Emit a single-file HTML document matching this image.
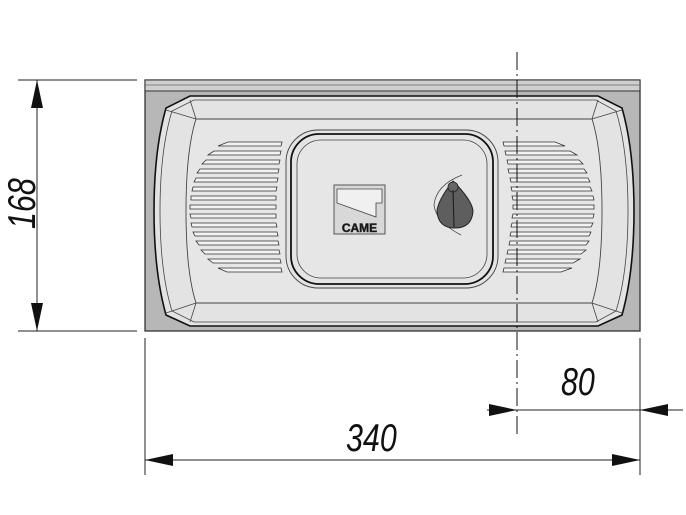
<!DOCTYPE html>
<html><head><meta charset="utf-8"><style>
html,body{margin:0;padding:0;background:#fff;width:686px;height:515px;overflow:hidden}
svg{display:block}
text{font-family:"Liberation Sans",sans-serif;font-style:italic;fill:#111}
</style></head><body>
<svg width="686" height="515" viewBox="0 0 686 515" xmlns="http://www.w3.org/2000/svg">
<rect x="145" y="80" width="495" height="251" fill="#b7b7b7" stroke="#333" stroke-width="1.3"/>
<rect x="145" y="80" width="495" height="11" fill="#cfcfcf" stroke="#333" stroke-width="1"/>
<line x1="145" y1="85" x2="640" y2="85" stroke="#666" stroke-width="0.8"/>
<path d="M190,96 L598,96 L622,108 Q634,150 634,211 Q634,272 622,315 L598,326 L190,326 L166,315 Q154,272 154,211 Q154,150 166,108 Z" fill="#e3e3e3" stroke="#111" stroke-width="1.6"/>
<path d="M194,100 L596,100 L616,111 Q628,150 628,211 Q628,272 616,311 L596,322 L194,322 L172,311 Q160,272 160,211 Q160,150 172,111 Z" fill="none" stroke="#444" stroke-width="0.8"/>
<path d="M196,119 L592,119 Q602,150 602,211 Q602,272 592,303 L196,303 Q186,272 186,211 Q186,150 196,119 Z" fill="#e6e6e6" stroke="#444" stroke-width="0.9"/>
<line x1="166" y1="110" x2="196" y2="119" stroke="#444" stroke-width="0.8"/>
<line x1="190" y1="100" x2="196" y2="119" stroke="#444" stroke-width="0.8"/>
<line x1="166" y1="313" x2="196" y2="303" stroke="#444" stroke-width="0.8"/>
<line x1="190" y1="322" x2="196" y2="303" stroke="#444" stroke-width="0.8"/>
<line x1="622" y1="110" x2="592" y2="119" stroke="#444" stroke-width="0.8"/>
<line x1="598" y1="100" x2="592" y2="119" stroke="#444" stroke-width="0.8"/>
<line x1="622" y1="313" x2="592" y2="303" stroke="#444" stroke-width="0.8"/>
<line x1="598" y1="322" x2="592" y2="303" stroke="#444" stroke-width="0.8"/>
<g fill="#f2f2f2" stroke="#333" stroke-width="0.8">
<path d="M228,142 L282,142 L281,146 L218,146 Z"/>
<path d="M214,151 L281,151 L280,155 L208,155 Z"/>
<path d="M206,160 L280,160 L279,164 L202,164 Z"/>
<path d="M200,169 L279,169 L278,173 L197,173 Z"/>
<path d="M196,178 L278,178 L277,182 L194,182 Z"/>
<path d="M193,187 L277,187 L276,191 L192,191 Z"/>
<path d="M191,196 L276,196 L276,200 L191,200 Z"/>
<path d="M190,205 L276,205 L276,209 L190,209 Z"/>
<path d="M190,214 L276,214 L276,218 L191,218 Z"/>
<path d="M191,223 L276,223 L277,227 L192,227 Z"/>
<path d="M193,232 L277,232 L278,236 L195,236 Z"/>
<path d="M196,241 L278,241 L279,245 L199,245 Z"/>
<path d="M201,250 L279,250 L280,254 L205,254 Z"/>
<path d="M208,259 L280,259 L281,263 L213,263 Z"/>
<path d="M218,268 L281,268 L282,272 L227,272 Z"/>
</g>
<g fill="#f2f2f2" stroke="#333" stroke-width="0.8">
<path d="M503,142 L555,142 L565,146 L504,146 Z"/>
<path d="M505,151 L570,151 L577,155 L506,155 Z"/>
<path d="M507,160 L579,160 L583,164 L508,164 Z"/>
<path d="M508,169 L584,169 L587,173 L509,173 Z"/>
<path d="M510,178 L588,178 L590,182 L511,182 Z"/>
<path d="M511,187 L590,187 L592,191 L512,191 Z"/>
<path d="M512,196 L593,196 L594,200 L513,200 Z"/>
<path d="M513,205 L594,205 L594,209 L513,209 Z"/>
<path d="M513,214 L594,214 L593,218 L512,218 Z"/>
<path d="M512,223 L593,223 L591,227 L511,227 Z"/>
<path d="M511,232 L591,232 L589,236 L510,236 Z"/>
<path d="M510,241 L589,241 L586,245 L509,245 Z"/>
<path d="M508,250 L586,250 L581,254 L507,254 Z"/>
<path d="M506,259 L580,259 L573,263 L505,263 Z"/>
<path d="M504,268 L572,268 L561,272 L503,272 Z"/>
</g>
<rect x="286" y="130" width="212" height="158" rx="32" fill="#e4e4e4" stroke="#444" stroke-width="0.9"/>
<rect x="291" y="134" width="202" height="150" rx="28" fill="none" stroke="#111" stroke-width="1.8"/>
<rect x="297" y="140" width="190" height="138" rx="24" fill="#e6e6e6" stroke="#444" stroke-width="0.8"/>
<rect x="334" y="185" width="51" height="49" fill="#d8d8d8" stroke="#555" stroke-width="1"/>
<path d="M337,189 L382,189 L382,203 L376,203 L376,217 L337,203 Z" fill="#f0f0f0" stroke="#444" stroke-width="0.8"/>
<text x="359.5" y="232" font-size="12" text-anchor="middle" style="font-style:normal;font-weight:bold" fill="#eee" stroke="#333" stroke-width="0.6">CAME</text>
<path d="M462,175 Q436,185 434,205 Q436,222 461,235" fill="none" stroke="#444" stroke-width="0.8"/>
<path d="M453,181 Q472,200 473,211 Q472,228 455,228 Q438,228 437,211 Q438,200 453,181 Z" fill="#5e5e5e" stroke="#222" stroke-width="1"/>
<circle cx="453" cy="187" r="5" fill="#666" stroke="#222" stroke-width="0.8"/>
<line x1="453" y1="190" x2="454" y2="227" stroke="#222" stroke-width="1.2"/>
<line x1="517" y1="52" x2="517" y2="437" stroke="#111" stroke-width="1" stroke-dasharray="18,4,2,4"/>
<g stroke="#222" stroke-width="1">
<line x1="18" y1="80" x2="137" y2="80"/>
<line x1="18" y1="331" x2="137" y2="331"/>
<line x1="37" y1="80" x2="37" y2="331"/>
<line x1="145" y1="338" x2="145" y2="475"/>
<line x1="640" y1="338" x2="640" y2="475"/>
<line x1="145" y1="460" x2="640" y2="460"/>
<line x1="487" y1="410" x2="683" y2="410"/>
</g>
<g fill="#111">
<polygon points="37,80 31,108 43,108"/>
<polygon points="37,331 31,303 43,303"/>
<polygon points="145,460 173,454 173,466"/>
<polygon points="640,460 612,454 612,466"/>
<polygon points="517,410 489,404 489,416"/>
<polygon points="640,410 668,404 668,416"/>
</g>
<text transform="translate(35,229) rotate(-90) scale(0.78,1)" font-size="39">168</text>
<text transform="translate(346,451) scale(0.78,1)" font-size="39">340</text>
<text transform="translate(561,395) scale(0.78,1)" font-size="39">80</text>
</svg>
</body></html>
